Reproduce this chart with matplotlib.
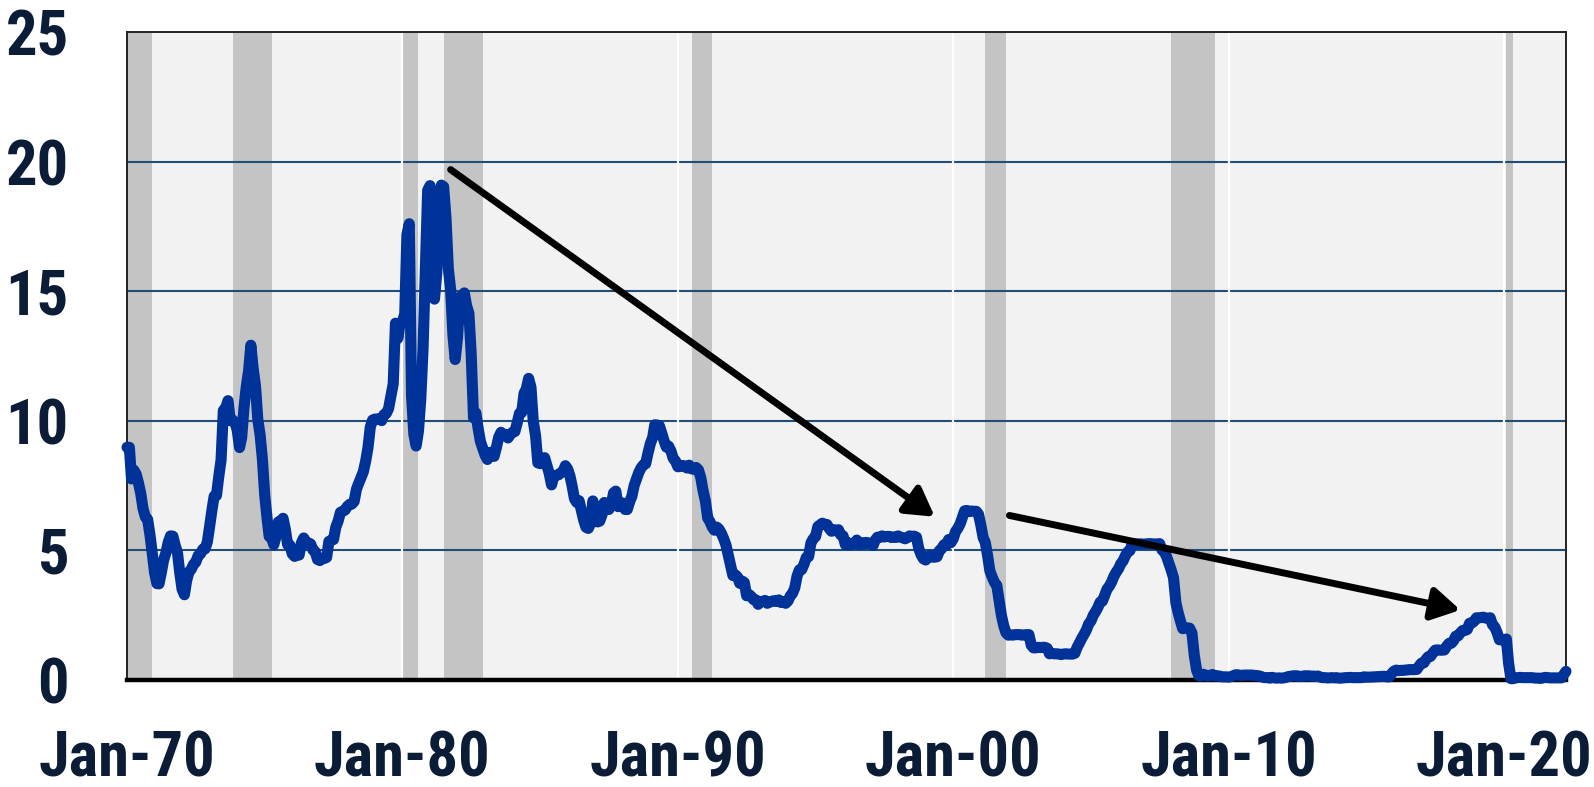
import numpy as np
import pandas as pd
import matplotlib
matplotlib.use('Agg')
import matplotlib.pyplot as plt

# effective fed funds rate, monthly, Jan-1970 .. Apr-2022
rate_by_year = {
	1970: [8.98, 8.98, 7.76, 8.10, 7.95, 7.61, 7.21, 6.61, 6.29, 6.20, 5.60, 4.90],
	1971: [4.14, 3.72, 3.71, 4.15, 4.63, 4.91, 5.31, 5.56, 5.55, 5.20, 4.91, 4.14],
	1972: [3.50, 3.29, 3.83, 4.17, 4.27, 4.46, 4.55, 4.80, 4.87, 5.04, 5.06, 5.33],
	1973: [5.94, 6.58, 7.09, 7.12, 7.84, 8.49, 10.40, 10.50, 10.78, 10.01, 10.03, 9.95],
	1974: [9.65, 8.97, 9.35, 10.51, 11.31, 11.93, 12.92, 12.01, 11.34, 10.06, 9.45, 8.53],
	1975: [7.13, 6.24, 5.54, 5.49, 5.22, 5.55, 6.10, 6.14, 6.24, 5.82, 5.22, 5.20],
	1976: [4.87, 4.77, 4.84, 4.82, 5.29, 5.48, 5.31, 5.29, 5.25, 5.02, 4.95, 4.65],
	1977: [4.61, 4.68, 4.69, 4.73, 5.35, 5.39, 5.42, 5.90, 6.14, 6.47, 6.51, 6.56],
	1978: [6.70, 6.78, 6.79, 6.89, 7.36, 7.60, 7.81, 8.04, 8.45, 8.96, 9.76, 10.03],
	1979: [10.07, 10.06, 10.09, 10.01, 10.24, 10.29, 10.47, 10.94, 11.43, 13.77, 13.18, 13.78],
	1980: [13.82, 14.13, 17.19, 17.61, 10.98, 9.47, 9.03, 9.61, 10.87, 12.81, 15.85, 18.90],
	1981: [19.08, 15.93, 14.70, 15.72, 18.52, 19.10, 19.04, 17.82, 15.87, 15.08, 13.31, 12.37],
	1982: [13.22, 14.78, 14.68, 14.94, 14.45, 14.15, 12.59, 10.12, 10.31, 9.71, 9.20, 8.95],
	1983: [8.68, 8.51, 8.77, 8.80, 8.63, 8.98, 9.37, 9.56, 9.45, 9.48, 9.34, 9.47],
	1984: [9.56, 9.59, 9.91, 10.29, 10.32, 11.06, 11.23, 11.64, 11.30, 9.99, 9.43, 8.38],
	1985: [8.35, 8.50, 8.58, 8.27, 7.97, 7.53, 7.88, 7.90, 7.92, 7.99, 8.05, 8.27],
	1986: [8.14, 7.86, 7.48, 6.99, 6.85, 6.92, 6.56, 6.17, 5.89, 5.85, 6.04, 6.91],
	1987: [6.43, 6.10, 6.13, 6.37, 6.85, 6.73, 6.58, 6.73, 7.22, 7.29, 6.69, 6.77],
	1988: [6.83, 6.58, 6.58, 6.87, 7.09, 7.51, 7.75, 8.01, 8.19, 8.30, 8.35, 8.76],
	1989: [9.12, 9.36, 9.85, 9.84, 9.81, 9.53, 9.24, 8.99, 9.02, 8.84, 8.55, 8.45],
	1990: [8.23, 8.24, 8.28, 8.26, 8.18, 8.29, 8.15, 8.13, 8.20, 8.11, 7.81, 7.31],
	1991: [6.91, 6.25, 6.12, 5.91, 5.78, 5.90, 5.82, 5.66, 5.45, 5.21, 4.81, 4.43],
	1992: [4.03, 4.06, 3.98, 3.73, 3.82, 3.76, 3.25, 3.30, 3.22, 3.10, 3.09, 2.92],
	1993: [3.02, 3.03, 3.07, 2.96, 3.00, 3.04, 3.06, 3.03, 3.09, 2.99, 3.02, 2.96],
	1994: [3.05, 3.25, 3.34, 3.56, 4.01, 4.25, 4.26, 4.47, 4.73, 4.76, 5.29, 5.45],
	1995: [5.53, 5.92, 5.98, 6.05, 6.01, 6.00, 5.85, 5.74, 5.80, 5.76, 5.80, 5.60],
	1996: [5.56, 5.22, 5.31, 5.22, 5.24, 5.27, 5.40, 5.22, 5.30, 5.24, 5.31, 5.29],
	1997: [5.25, 5.19, 5.39, 5.51, 5.50, 5.56, 5.52, 5.54, 5.54, 5.50, 5.52, 5.50],
	1998: [5.56, 5.51, 5.49, 5.45, 5.49, 5.56, 5.54, 5.55, 5.51, 5.07, 4.83, 4.68],
	1999: [4.63, 4.76, 4.81, 4.74, 4.74, 4.76, 4.99, 5.07, 5.22, 5.20, 5.42, 5.30],
	2000: [5.45, 5.73, 5.85, 6.02, 6.27, 6.53, 6.54, 6.50, 6.52, 6.51, 6.51, 6.40],
	2001: [5.98, 5.49, 5.31, 4.80, 4.21, 3.97, 3.77, 3.65, 3.07, 2.49, 2.09, 1.82],
	2002: [1.73, 1.74, 1.73, 1.75, 1.75, 1.75, 1.73, 1.74, 1.75, 1.75, 1.34, 1.24],
	2003: [1.24, 1.26, 1.25, 1.26, 1.26, 1.22, 1.01, 1.03, 1.01, 1.01, 1.00, 0.98],
	2004: [1.00, 1.01, 1.00, 1.00, 1.00, 1.03, 1.26, 1.43, 1.61, 1.76, 1.93, 2.16],
	2005: [2.28, 2.50, 2.63, 2.79, 3.00, 3.04, 3.26, 3.50, 3.62, 3.78, 4.00, 4.16],
	2006: [4.29, 4.49, 4.59, 4.79, 4.94, 4.99, 5.24, 5.25, 5.25, 5.25, 5.25, 5.24],
	2007: [5.25, 5.26, 5.26, 5.25, 5.25, 5.25, 5.26, 5.02, 4.94, 4.76, 4.49, 4.24],
	2008: [3.94, 2.98, 2.61, 2.28, 1.98, 2.00, 2.01, 2.00, 1.81, 0.97, 0.39, 0.16],
	2009: [0.15, 0.22, 0.18, 0.15, 0.18, 0.21, 0.16, 0.16, 0.15, 0.12, 0.12, 0.12],
	2010: [0.11, 0.13, 0.16, 0.20, 0.20, 0.18, 0.18, 0.19, 0.19, 0.19, 0.19, 0.18],
	2011: [0.17, 0.16, 0.14, 0.10, 0.09, 0.09, 0.07, 0.10, 0.08, 0.07, 0.08, 0.07],
	2012: [0.08, 0.10, 0.13, 0.14, 0.16, 0.16, 0.16, 0.13, 0.14, 0.16, 0.16, 0.16],
	2013: [0.14, 0.15, 0.14, 0.15, 0.11, 0.09, 0.09, 0.08, 0.08, 0.09, 0.08, 0.09],
	2014: [0.07, 0.07, 0.08, 0.09, 0.09, 0.10, 0.09, 0.09, 0.09, 0.09, 0.09, 0.12],
	2015: [0.11, 0.11, 0.11, 0.12, 0.12, 0.13, 0.13, 0.14, 0.14, 0.12, 0.12, 0.24],
	2016: [0.34, 0.38, 0.36, 0.37, 0.37, 0.38, 0.39, 0.40, 0.40, 0.40, 0.41, 0.54],
	2017: [0.65, 0.66, 0.79, 0.90, 0.91, 1.04, 1.15, 1.16, 1.15, 1.15, 1.16, 1.30],
	2018: [1.41, 1.42, 1.51, 1.69, 1.70, 1.82, 1.91, 1.91, 1.95, 2.19, 2.20, 2.27],
	2019: [2.40, 2.40, 2.41, 2.42, 2.39, 2.38, 2.40, 2.13, 2.04, 1.83, 1.55, 1.55],
	2020: [1.55, 1.58, 0.65, 0.05, 0.05, 0.08, 0.09, 0.10, 0.09, 0.09, 0.09, 0.09],
	2021: [0.09, 0.08, 0.07, 0.07, 0.06, 0.08, 0.10, 0.09, 0.08, 0.08, 0.08, 0.08],
	2022: [0.08, 0.08, 0.20, 0.33],
}

# recessions (first month, last month)
recessions = [
	('1969-12', '1970-11'),
	('1973-11', '1975-03'),
	('1980-01', '1980-07'),
	('1981-07', '1982-11'),
	('1990-07', '1991-03'),
	('2001-03', '2001-11'),
	('2007-12', '2009-06'),
	('2020-02', '2020-04'),
]

# trend arrows: (start date, start value) -> (end date, end value)
arrows = [
	(('1981-10-01', 19.7), ('1999-05-01', 6.3)),
	(('2002-01-15', 6.35), ('2018-06-01', 2.7)),
]

yticks = [0, 5, 10, 15, 20, 25]
xtick_years = [1970, 1980, 1990, 2000, 2010, 2020]

vals = []
for y in sorted(rate_by_year):
	vals += rate_by_year[y]
dates = pd.date_range('1970-01-01', periods=len(vals), freq='MS')
s = pd.Series(vals, index=dates)

txt_col = '#0b1d36'
fnt = ['Roboto Condensed', 'Liberation Sans', 'DejaVu Sans']

fig = plt.figure(figsize=(15.94, 7.87), dpi=100)
ax = fig.add_axes([0.0797, 0.136, 0.9027, 0.823])
ax.set_facecolor('#f2f2f2')

for a, b in recessions:
	x0 = pd.Timestamp(a)
	x1 = pd.Timestamp(b) + pd.offsets.MonthBegin(1)
	ax.axvspan(x0, x1, color='#c4c4c4', lw=0, zorder=1)

for y in yticks[1:-1]:
	ax.axhline(y, color='#1f4e79', lw=1.5, zorder=2)
for yr in xtick_years[1:]:
	ax.axvline(pd.Timestamp(f'{yr}-01-01'), color='white', lw=1.6, zorder=2.5)

ax.plot(s.index, s.values, color='#003399', lw=8, solid_joinstyle='round',
		solid_capstyle='round', zorder=4, clip_on=False)

for (d0, v0), (d1, v1) in arrows:
	ax.annotate('', xy=(pd.Timestamp(d1), v1), xytext=(pd.Timestamp(d0), v0),
				arrowprops=dict(arrowstyle='-|>,head_length=0.6,head_width=0.35',
								color='black', lw=5, mutation_scale=28,
								shrinkA=0, shrinkB=0), zorder=5)

ax.set_xlim(pd.Timestamp('1970-01-01'), s.index[-1])
ax.set_ylim(0, 25)
ax.set_yticks(yticks)
ax.set_yticklabels([str(t) for t in yticks])
ax.set_xticks([pd.Timestamp(f'{yr}-01-01') for yr in xtick_years])
ax.set_xticklabels([f'Jan-{yr % 100:02d}' for yr in xtick_years])
ax.tick_params(axis='both', length=0, labelsize=45, labelcolor=txt_col)
ax.tick_params(axis='y', pad=42)
ax.tick_params(axis='x', pad=36)
for lab in ax.get_xticklabels() + ax.get_yticklabels():
	lab.set_family(fnt)
	lab.set_fontweight('bold')

for side in ['top', 'left', 'right']:
	ax.spines[side].set_linewidth(1.4)
	ax.spines[side].set_color('#222222')
ax.spines['bottom'].set_linewidth(3.2)
ax.spines['bottom'].set_color('black')
ax.spines['bottom'].set_zorder(3)

fig.savefig('out.png', dpi=100)
